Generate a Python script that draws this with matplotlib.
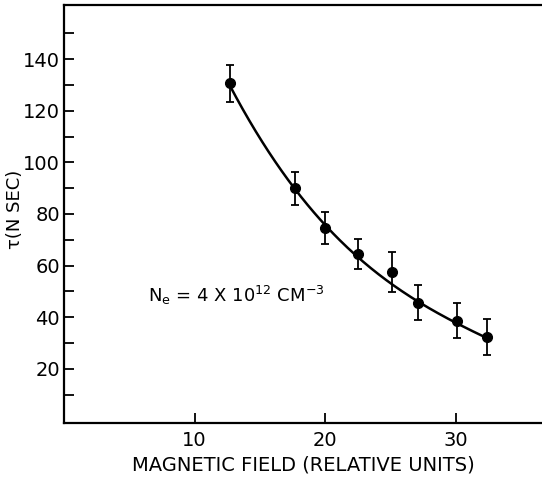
import matplotlib
matplotlib.use('Agg')
import matplotlib.pyplot as plt
import numpy as np

# Data
field = [12.7, 17.7, 20.0, 22.5, 25.1, 27.1, 30.1, 32.4]
tau = [130.6, 89.9, 74.6, 64.3, 57.5, 45.6, 38.6, 32.2]
tau_err = [7.3, 6.3, 6.2, 5.8, 7.7, 6.7, 6.8, 7.0]

# Points along the drawn smooth curve
curve_x = [12.7, 13.3, 14.9, 17.7, 20.0, 22.5, 24.2, 25.0, 27.1, 30.1, 32.4]
curve_y = [130.6, 123.2, 110.2, 89.9, 74.6, 64.3, 56.5, 53.3, 45.6, 37.1, 32.2]

x_ticks = [10, 20, 30]
y_ticks = [20, 40, 60, 80, 100, 120, 140]
y_minor = [10, 30, 50, 70, 90, 110, 130, 150]

plt.rcParams['font.family'] = ['DejaVu Sans']

fig = plt.figure(figsize=(5.42, 4.79), dpi=100)
ax = fig.add_axes([0.118, 0.117, 0.882, 0.8727])

# smooth curve through the read-off points
coef = np.polyfit(curve_x, curve_y, 3)
xs = np.linspace(curve_x[0], curve_x[-1], 200)
ax.plot(xs, np.polyval(coef, xs), color='black', lw=1.8)

ax.errorbar(field, tau, yerr=tau_err, fmt='o', color='black', ms=7,
            elinewidth=1.3, capsize=3, capthick=1.3)

ax.text(6.4, 48.3, r'N$_\mathregular{e}$ = 4 X 10$^\mathregular{12}$ CM$^\mathregular{-3}$',
        fontsize=13, va='center', ha='left')

ax.set_xlim(0, 36.6)
ax.set_ylim(-1, 161)
ax.set_xticks(x_ticks)
ax.set_yticks(y_ticks)
ax.set_yticks(y_minor, minor=True)

ax.tick_params(axis='both', which='both', direction='in', length=7, width=1.3,
               labelsize=14)
ax.tick_params(axis='y', which='both', right=False, pad=3)
ax.tick_params(axis='x', which='both', top=False, pad=6)

for s in ['left', 'bottom', 'top']:
    ax.spines[s].set_linewidth(1.6)
ax.spines['right'].set_visible(False)

ax.set_xlabel('MAGNETIC FIELD (RELATIVE UNITS)', fontsize=14, labelpad=4)
ax.set_ylabel('τ(N SEC)', fontsize=13)
ax.yaxis.set_label_coords(-0.084, 0.51)

fig.savefig('out.png', dpi=100)
